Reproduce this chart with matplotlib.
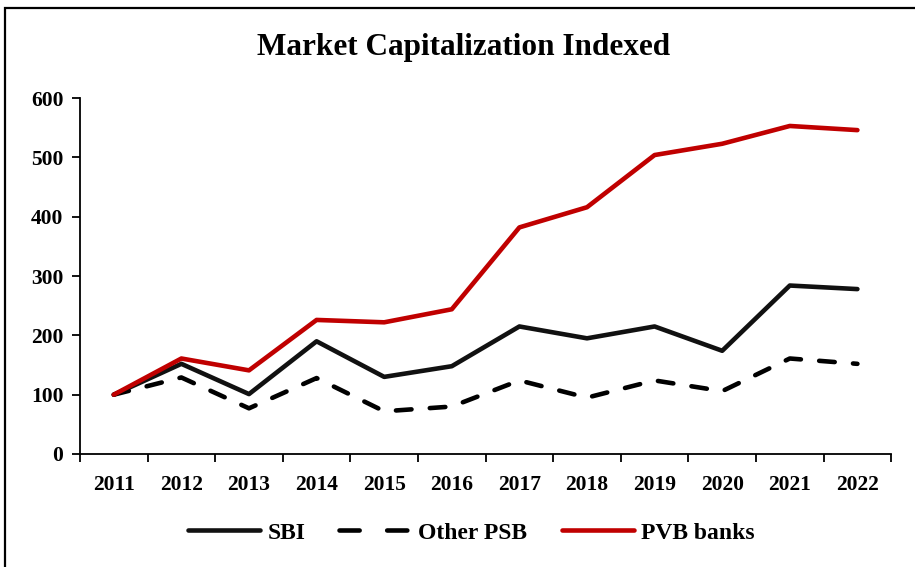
import matplotlib.pyplot as plt
import matplotlib.patches as patches

# data
years = ["2011", "2012", "2013", "2014", "2015", "2016",
         "2017", "2018", "2019", "2020", "2021", "2022"]
sbi = [100, 152, 101, 190, 130, 148, 215, 195, 215, 174, 284, 278]
other_psb = [100, 129, 77, 128, 72, 80, 124, 95, 124, 106, 161, 152]
pvb_banks = [100, 161, 141, 226, 222, 244, 382, 416, 504, 523, 553, 546]

plt.rcParams['font.family'] = ['Liberation Serif', 'DejaVu Serif']
plt.rcParams['font.weight'] = 'bold'

fig = plt.figure(figsize=(9.15, 5.67), dpi=100)
ax = fig.add_axes([0.0874, 0.1993, 0.8866, 0.6277])

x = list(range(len(years)))
ax.plot(x, sbi, color='#111111', lw=3.3, solid_capstyle='round', label='SBI')
ax.plot(x, other_psb, color='#000000', lw=3.3, linestyle=(0, (3.4, 4.0)),
        dash_capstyle='round', label='Other PSB')
ax.plot(x, pvb_banks, color='#C00000', lw=3.3, solid_capstyle='round', label='PVB banks')

ax.set_xlim(-0.5, len(years) - 0.5)
ax.set_ylim(0, 600)
ax.set_yticks(range(0, 601, 100))
ax.set_xticks(x)
ax.set_xticklabels(years)
ax.set_xticks([i - 0.5 for i in range(len(years) + 1)], minor=True)
ax.tick_params(axis='x', which='major', length=0, pad=15, labelsize=15.5)
ax.tick_params(axis='x', which='minor', length=6, width=1.3, direction='out')
ax.tick_params(axis='y', length=6, width=1.3, pad=6, labelsize=15.5)

for s in ['top', 'right']:
    ax.spines[s].set_visible(False)
for s in ['left', 'bottom']:
    ax.spines[s].set_linewidth(1.3)

fig.text(0.507, 0.917, 'Market Capitalization Indexed', ha='center', va='center',
         fontsize=22.5, fontweight='bold')

leg = fig.legend(loc='center', bbox_to_anchor=(0.515, 0.06), ncol=3, frameon=False,
                 fontsize=17, handlelength=3.05, handletextpad=0.3, columnspacing=1.45)
# two whole dashes in the legend sample, like the reference
leg.get_lines()[1].set_linestyle((0, (4.4, 6.0)))

border = patches.Rectangle((5 / 915, -0.05), 1.0, (567 - 8) / 567 + 0.05,
                           transform=fig.transFigure, fill=False,
                           edgecolor='black', lw=1.6)
fig.patches.append(border)

fig.savefig('out.png', dpi=100)
